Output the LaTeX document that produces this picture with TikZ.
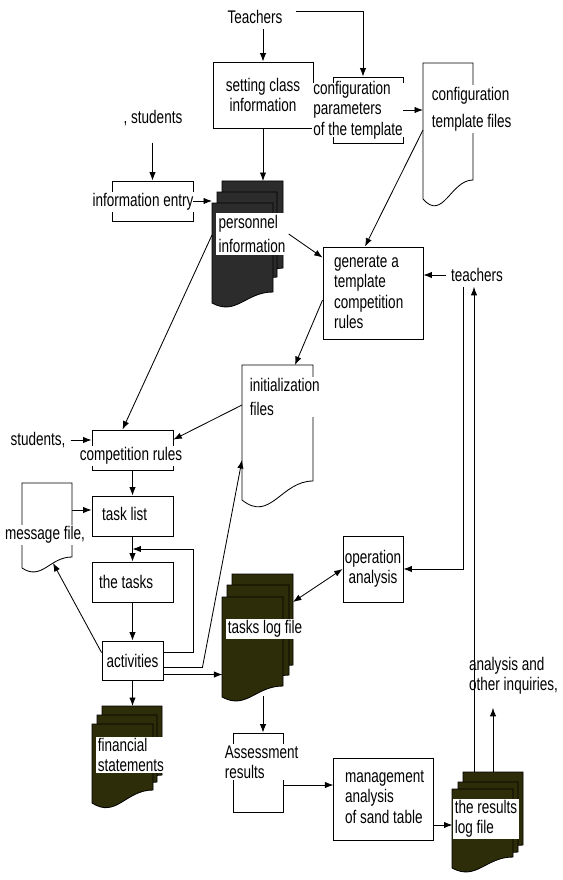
\documentclass[tikz,border=0pt]{standalone}
\usepackage{fontspec}
\setmainfont{Liberation Sans}[FakeStretch=0.74]
\usepackage{tikz}
\usetikzlibrary{calc,arrows.meta}

\definecolor{sheetgray}{RGB}{44,44,44}
\definecolor{sheetolive}{RGB}{46,45,10}

% document outline: left x, top y, right x, right bottom y, left bottom y
\newcommand{\docshape}[6][]{%
  \draw[#1] (#2,#3) -- (#4,#3) -- (#4,#5)
    .. controls ({#4-0.45*(#4-#2)},#5) and ({#2+0.4*(#4-#2)},{#6+1.2*(#6-#5)}) .. (#2,#6) -- cycle;}

\begin{document}
\begin{tikzpicture}[x=0.025cm, y=-0.025cm, >={Latex[length=6pt,width=4.5pt]}, line width=0.6pt,
    font=\fontsize{13}{14.5}\selectfont,
    box/.style={draw, inner sep=0pt},
    lbl/.style={fill=white, inner sep=1pt, align=left},
    dark/.style={draw, fill=sheetgray},
    olive/.style={draw, fill=sheetolive}]
    \useasboundingbox (0,0) rectangle (562,880);

    % boxes
    \node[box, minimum width=2.5cm, minimum height=1.65cm, align=center] (setclass) at (263,95) {setting class\\information};
    \node[box, minimum width=1.75cm, minimum height=1.65cm] (cfgpar) at (368,110) {};
    \node[box, minimum width=2.025cm, minimum height=1cm] (infoentry) at (152.5,201) {};
    \node[box, minimum width=2.5cm, minimum height=2.3cm] (gen) at (373,293) {};
    \node[box, minimum width=2.025cm, minimum height=1cm] (comprules) at (132.5,450) {};
    \node[box, minimum width=2.025cm, minimum height=1cm] (tasklist) at (132.5,516) {};
    \node[box, minimum width=2.025cm, minimum height=1cm] (thetasks) at (132.5,582) {};
    \node[box, minimum width=1.525cm, minimum height=0.975cm] (act) at (132.5,660.5) {activities};
    \node[box, minimum width=1.5cm, minimum height=1.65cm, align=center] (opana) at (373,569) {operation\\analysis};
    \node[box, minimum width=1.25cm, minimum height=1.975cm] (assess) at (258,772.5) {};
    \node[box, minimum width=2.5cm, minimum height=2.05cm] (mgmt) at (383,799) {};

    % single files
    \docshape{423}{63}{473}{180}{199}
    \docshape{242}{365}{313}{481}{500}
    \docshape{22}{483}{72}{557}{568}

    % stacked files
    \docshape[dark]{222}{181}{283}{268}{285}
    \docshape[dark]{217}{192}{277}{277}{295}
    \docshape[dark]{212}{203}{273}{292}{303}

    \docshape[olive]{232}{574}{293}{665}{680}
    \docshape[olive]{227}{585}{289}{675}{690}
    \docshape[olive]{222}{597}{283}{686}{697}

    \docshape[olive]{102}{706}{162}{775}{790}
    \docshape[olive]{97}{715}{157}{782}{797}
    \docshape[olive]{92}{724}{153}{790}{803}

    \docshape[olive]{463}{772}{523}{845}{858}
    \docshape[olive]{458}{782}{518}{852}{864}
    \docshape[olive]{452}{789}{513}{857}{868}

    % texts
    \node (tchtop) at (255,17) {Teachers};
    \node (stud1) at (153,118) {, students};
    \node[lbl, inner ysep=-1.5pt] (cfgpartxt) at (358,110) {configuration\\parameters\\of the template};
    \node[lbl, anchor=west] (cfgtpltxt) at (430,109) {configuration\\[5pt]template files};
    \node[lbl] (infotxt) at (143,202) {information entry};
    \node[lbl, inner sep=2pt] (persinfo) at (252,234) {personnel\\[2pt]information};
    \node (tchright) at (477,275) {teachers};
    \node[anchor=west, align=left] (gentxt) at (329,292) {generate a\\template\\competition\\rules};
    \node[lbl, anchor=west] (inittxt) at (248,397) {initialization\\[2pt]files};
    \node (stud2) at (38,440) {students,};
    \node[lbl] (comptxt) at (131,456) {competition rules};
    \node[anchor=west] (tasklisttxt) at (97,514) {task list};
    \node[lbl] (msgtxt) at (45,535) {message file,};
    \node[anchor=west] (thetaskstxt) at (94,582) {the tasks};
    \node[lbl] (tlogtxt) at (265,629) {tasks log file};
    \node[lbl, anchor=west] (fintxt) at (96,755) {financial\\statements};
    \node[lbl, anchor=west] (asstxt) at (223,762) {Assessment\\results};
    \node[anchor=west, align=left] (mgmttxt) at (340,797) {management\\analysis\\of sand table};
    \node[lbl, anchor=west] (reslogtxt) at (453,819) {the results\\log file};
    \node[anchor=east, align=left] (inq) at (563,676) {analysis and\\other inquiries,};

    % points on the file outlines
    \coordinate (persback) at (252,181);
    \coordinate (persfront) at (212,203);
    \coordinate (persleft) at (212,235);
    \coordinate (cfgtplleft) at (423,130);
    \coordinate (inittop) at (295,365);
    \coordinate (initleft) at (242,405);
    \coordinate (initlow) at (242,460);
    \coordinate (msgright) at (72,510);
    \coordinate (msgbottom) at (53,563);
    \coordinate (finback) at (132,706);
    \coordinate (tlogright) at (293,602);
    \coordinate (tlogbottom) at (263,696);
    \coordinate (reslogtop) at (474,772);
    \coordinate (reslogtop2) at (493,772);

    % connectors
    \draw[->] (tchtop.south -| setclass.north) -- (setclass.north);
    \draw[->] ($(tchtop.east)+(8,-6)$) -| ($(cfgpar.north)+(-5,0)$);
    \draw[->] (cfgpar.east) -- (cfgpar.east -| cfgtplleft);
    \draw[->] (setclass.south) -- (setclass.south |- persback);
    \draw[->] ($(infoentry.north)+(0,-38)$) -- (infoentry.north);
    \draw[->] (infoentry.east) -- (infoentry.east -| persfront);
    \draw[->] (persinfo.east) -- ($(gen.north west)+(0,11)$);
    \draw[->] (cfgtplleft) -- ($(gen.north)+(-8,0)$);
    \draw[->] (tchright.west) -- (tchright.west -| gen.east);
    \draw[->] ($(gen.west)+(0,7)$) -- (inittop);
    \draw[->] (initleft) -- ($(comprules.north east)+(0,10)$);
    \draw[->] (persleft) -- ($(comprules.north)+(-10,0)$);
    \draw[->] (stud2.east) -- (stud2.east -| comprules.west);
    \draw[->] (comprules.south) -- (tasklist.north);
    \draw[->] (msgright) -- (msgright -| tasklist.west);
    \draw[->] (tasklist.south) -- (thetasks.north);
    \draw[->] (thetasks.south) -- (act.north);
    \draw[->] ($(act.east)+(0,-8)$) -- ++(30,0) |- ($(tasklist.south)!0.5!(thetasks.north)$);
    \draw[->] ($(act.east)+(0,7)$) -- ++(39,0) -- (initlow);
    \draw[->] ($(act.east)+(0,14)$) -- ++(59,0);
    \draw[->] ($(act.north west)+(0,12)$) -- (msgbottom);
    \draw[->] (act.south) -- (act.south |- finback);
    \draw[<->] (opana.west) -- (tlogright);
    \draw[->] (tlogbottom) -- (tlogbottom |- assess.north);
    \draw[->] ($(assess.east)+(0,12.5)$) -- ++(50,0);
    \draw[->] ($(mgmt.east)+(0,26)$) -- ++(19,0);
    \draw[->] ($(tchright.south)+(-14,0)$) |- (opana.east);
    \draw[->] (reslogtop) -- (reslogtop |- tchright.south);
    \draw[->] (reslogtop2) -- ($(reslogtop2 |- inq.south)+(0,8)$);
\end{tikzpicture}
\end{document}
